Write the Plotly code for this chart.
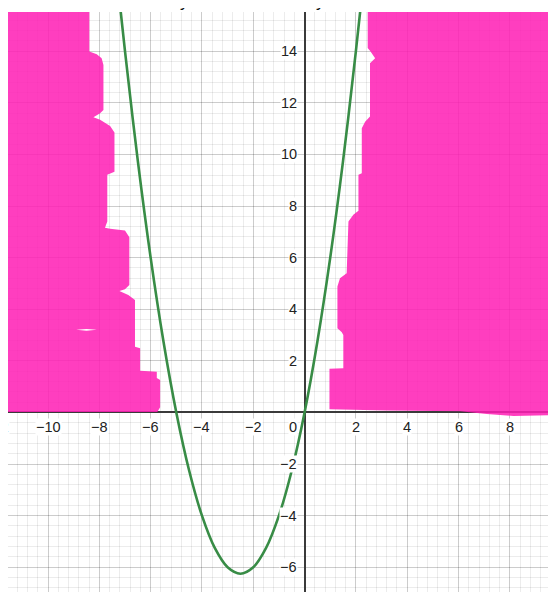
import plotly.graph_objects as go

# ---- data ----
# parabola points (x, y)
curve_x = [-7.2, -7.0, -6.5, -6.0, -5.5, -5.0, -4.5, -4.0, -3.5, -3.0, -2.5, -2.0, -1.5, -1.0, -0.5, 0.0, 0.5, 1.0, 1.5, 2.0, 2.2]
curve_y = [15.84, 14.0, 9.75, 6.0, 2.75, 0.0, -2.25, -4.0, -5.25, -6.0, -6.25, -6.0, -5.25, -4.0, -2.25, 0.0, 2.75, 6.0, 9.75, 14.0, 15.84]

# left pink region boundary (x, y), traced clockwise
left_x = [-13.0, -8.39, -8.39, -8.10, -7.91, -7.84, -7.84, -7.97, -8.23, -7.97, -7.58, -7.41, -7.41, -7.69, -7.69,
          -7.78, -7.58, -7.00, -6.83, -6.83, -7.00, -7.22, -6.87, -6.61, -6.61, -6.41, -6.41, -5.76, -5.76,
          -5.63, -5.63, -5.74, -13.0]
left_y = [16.0, 16.0, 13.99, 13.88, 13.73, 13.47, 11.72, 11.60, 11.44, 11.34, 11.10, 10.85, 9.33, 9.21, 7.40,
          7.16, 7.12, 7.05, 6.79, 4.94, 4.77, 4.71, 4.55, 4.36, 2.55, 2.49, 1.62, 1.58, 1.33,
          1.26, 0.20, 0.02, 0.02]

# small white gap inside the left region
gap_x = [-8.9, -8.5, -8.1, -8.5, -8.9]
gap_y = [3.20, 3.23, 3.20, 3.17, 3.20]

# right pink region boundary (x, y)
right_x = [2.46, 2.46, 2.55, 2.75, 2.55, 2.55, 2.36, 2.23, 2.23, 2.10, 2.10, 1.90, 1.71, 1.64, 1.38, 1.28, 1.28,
           1.45, 1.51, 1.51, 0.97, 0.97, 3.2, 6.06, 7.1, 8.14, 9.69, 10.5, 10.5]
right_y = [16.0, 14.12, 14.02, 13.73, 13.53, 11.47, 11.27, 11.01, 9.27, 9.21, 7.82, 7.66, 7.40, 5.39, 5.20, 4.88, 3.26,
           3.11, 3.00, 1.71, 1.69, 0.12, 0.07, 0.05, -0.06, -0.14, -0.11, -0.10, 16.0]

x_ticks = [-12, -10, -8, -6, -4, -2, 2, 4, 6, 8]
y_ticks = [-6, -4, -2, 2, 4, 6, 8, 10, 12, 14]

X_RANGE = [-11.56, 9.80]
Y_RANGE = [-6.96, 15.52]

PINK = "rgba(255,30,181,0.86)"
GREEN = "#388c46"

fig = go.Figure()
fig.add_trace(go.Scatter(x=left_x, y=left_y, mode="lines", fill="toself", fillcolor=PINK,
                         line=dict(width=0, color=PINK), hoverinfo="skip", showlegend=False))
fig.add_trace(go.Scatter(x=gap_x, y=gap_y, mode="lines", fill="toself", fillcolor="white",
                         line=dict(width=0, color="white"), hoverinfo="skip", showlegend=False))
fig.add_trace(go.Scatter(x=right_x, y=right_y, mode="lines", fill="toself", fillcolor=PINK,
                         line=dict(width=0, color=PINK), hoverinfo="skip", showlegend=False))
fig.add_trace(go.Scatter(x=curve_x, y=curve_y, mode="lines", line=dict(color=GREEN, width=2.6, shape="spline"),
                         hoverinfo="skip", showlegend=False))

label_font = dict(family="Liberation Sans, Arial, sans-serif", size=14.5, color="#222")
annotations = []


def xpos(v):
    # position along x in paper units computed from the axis range
    return (v - X_RANGE[0]) / (X_RANGE[1] - X_RANGE[0])


for t in x_ticks:
    txt = ("\u2212" + str(abs(t))) if t < 0 else str(t)
    annotations.append(dict(x=xpos(t), xref="paper", y=0, yref="y", text=txt, showarrow=False,
                            xanchor="center", yanchor="middle", yshift=-15, font=label_font,
                            bgcolor="white", borderpad=0))
for t in y_ticks:
    txt = ("\u2212" + str(abs(t))) if t < 0 else str(t)
    annotations.append(dict(x=0, xref="x", y=t, yref="y", text=txt, showarrow=False,
                            xanchor="right", yanchor="middle", xshift=-7, font=label_font,
                            bgcolor="white", borderpad=0))
annotations.append(dict(x=0, xref="x", y=0, yref="y", text="0", showarrow=False,
                        xanchor="right", yanchor="middle", xshift=-7, yshift=-15, font=label_font,
                        bgcolor="white", borderpad=0))
# title (mostly cut off at the top of the page, as in the reference)
annotations.append(dict(x=0.511, xref="paper", y=1, yref="paper", text="y > x² + 5x   and   y < x² + 5x",
                        showarrow=False, xanchor="center", yanchor="bottom", yshift=-1,
                        font=dict(family="Liberation Sans, Arial, sans-serif", size=17, color="#111")))

axis_common = dict(showgrid=True, gridcolor="rgba(0,0,0,0.2)", gridwidth=1,
                   zeroline=True, zerolinecolor="#3a3a3a", zerolinewidth=1.6,
                   showticklabels=False, ticks="", showline=False, dtick=2, tick0=0,
                   minor=dict(dtick=0.4, showgrid=True, gridcolor="rgba(0,0,0,0.075)", gridwidth=1))

fig.update_layout(
    width=548, height=584,
    margin=dict(l=0, r=0, t=4, b=0),
    paper_bgcolor="white", plot_bgcolor="white",
    xaxis=dict(range=X_RANGE, **axis_common),
    yaxis=dict(range=Y_RANGE, **axis_common),
    annotations=annotations,
    showlegend=False,
)

fig.write_html("out.html")
